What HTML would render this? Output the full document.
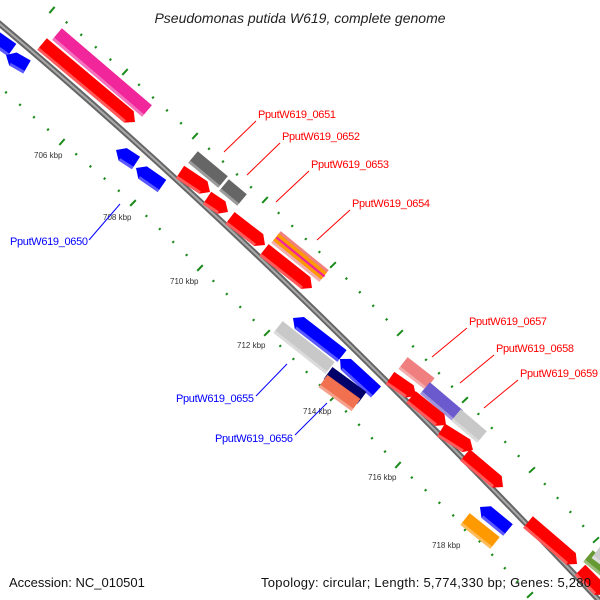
<!DOCTYPE html>
<html><head><meta charset="utf-8"><style>
html,body{margin:0;background:#fff;width:600px;height:600px;overflow:hidden}
svg{display:block;overflow:hidden}
text{font-family:"Liberation Sans","DejaVu Sans",sans-serif}
</style></head><body>
<svg id="s" width="600" height="600" viewBox="0 0 600 600" xmlns="http://www.w3.org/2000/svg">
<defs><clipPath id="c"><rect x="0" y="0" width="600" height="600"/></clipPath></defs>
<g clip-path="url(#c)">
<path d="M-5,20 Q270,250 610,612" stroke="#666" stroke-width="6" fill="none"/>
<path d="M-5,20 Q270,250 610,612" stroke="#aaa" stroke-width="2" fill="none"/>
<g id="g"></g>
</g>
<text x="300" y="23" font-size="14" font-style="italic" text-anchor="middle" fill="#222">Pseudomonas putida W619, complete genome</text>
<text x="9" y="587" font-size="13" fill="#111">Accession: NC_010501</text>
<text x="261" y="587" font-size="13" fill="#111" textLength="330" lengthAdjust="spacing">Topology: circular; Length: 5,774,330 bp; Genes: 5,280</text>
<g font-size="8" fill="#333">
<text x="34" y="158">706 kbp</text><text x="103" y="220">708 kbp</text><text x="170" y="284">710 kbp</text>
<text x="237" y="348">712 kbp</text><text x="303" y="414">714 kbp</text><text x="368" y="480">716 kbp</text><text x="432" y="548">718 kbp</text>
</g>
<g font-size="11" fill="#f00">
<text x="258" y="118" textLength="78">PputW619_0651</text><text x="282" y="140" textLength="78">PputW619_0652</text>
<text x="311" y="168" textLength="78">PputW619_0653</text><text x="352" y="207" textLength="78">PputW619_0654</text>
<text x="469" y="325" textLength="78">PputW619_0657</text><text x="496" y="352" textLength="78">PputW619_0658</text>
<text x="520" y="377" textLength="78">PputW619_0659</text>
</g>
<g stroke="#f00" stroke-width="1">
<line x1="256" y1="121" x2="224" y2="152"/><line x1="280" y1="143" x2="247" y2="175"/>
<line x1="309" y1="171" x2="276" y2="202"/><line x1="350" y1="210" x2="317" y2="240"/>
<line x1="467" y1="328" x2="432" y2="357"/><line x1="494" y1="355" x2="460" y2="383"/>
<line x1="518" y1="380" x2="484" y2="408"/>
</g>
<g font-size="11" fill="#00f">
<text x="10" y="245" textLength="78">PputW619_0650</text><text x="176" y="402" textLength="78">PputW619_0655</text><text x="215" y="442" textLength="78">PputW619_0656</text>
</g>
<g stroke="#00f" stroke-width="1">
<line x1="89" y1="240" x2="120" y2="204"/><line x1="256" y1="396" x2="287" y2="364"/><line x1="295" y1="435" x2="327" y2="403"/>
</g>
</svg>
<script>
var g=document.getElementById('g'),NS='http://www.w3.org/2000/svg';
function el(t,a){var e=document.createElementNS(NS,t);for(var k in a)e.setAttribute(k,a[k]);g.appendChild(e);return e;}
function row(L){for(var i=0;i<L.length-1;i++){var a=L[i],b=L[i+1];for(var j=0;j<5;j++){var t=j/5,x=a[0]+(b[0]-a[0])*t,y=a[1]+(b[1]-a[1])*t;var dx=b[0]-a[0],dy=b[1]-a[1],d=Math.hypot(dx,dy);var nx=-dy/d,ny=dx/d;var h=j==0?4:1.2;el('line',{x1:x-nx*h,y1:y-ny*h,x2:x+nx*h,y2:y+ny*h,stroke:'#1a8a1a','stroke-width':2});}}}
row([[52,10],[125,72],[195,136],[265,200],[333,265],[400,333],[465,400],[532,470],[596,540],[660,610]]);
row([[-8,80],[62,142],[133,203],[200,268],[267,333],[333,398],[398,465],[467,528],[530,595],[590,660]]);
function gene(x1,y1,x2,y2,c,ar,W){var w=W||7.5,dx=x2-x1,dy=y2-y1,d=Math.hypot(dx,dy),ux=dx/d,uy=dy/d,nx=-uy,ny=ux,ah=8;
var p=[];
if(ar==-1){p.push([x1,y1]);p.push([x1+ux*ah+nx*w,y1+uy*ah+ny*w]);}else{p.push([x1+nx*w,y1+ny*w]);}
if(ar==1){p.push([x2-ux*ah+nx*w,y2-uy*ah+ny*w]);p.push([x2,y2]);p.push([x2-ux*ah-nx*w,y2-uy*ah-ny*w]);}else{p.push([x2+nx*w,y2+ny*w]);p.push([x2-nx*w,y2-ny*w]);}
if(ar==-1){p.push([x1+ux*ah-nx*w,y1+uy*ah-ny*w]);}else{p.push([x1-nx*w,y1-ny*w]);}
el('polygon',{points:p.map(function(q){return q.join(',')}).join(' '),fill:c});
if(!W)el('line',{x1:x1+nx*(w-1.5)+(ar==-1?ux*ah:0),y1:y1+ny*(w-1.5)+(ar==-1?uy*ah:0),x2:x2+nx*(w-1.5)-(ar==1?ux*ah:0),y2:y2+ny*(w-1.5)-(ar==1?uy*ah:0),stroke:'rgba(255,255,255,0.35)','stroke-width':3});}
var G=[
[42,44,135,122,'#f00',1],[57,34,147,111,'#f0269a',0],
[-5,38,12,50,'#00f',0],[6,55,27,67,'#00f',-1],
[116,150,136,163,'#00f',-1],[136,168,162,186,'#00f',-1],
[193,157,223,182,'#666',0],[224,185,242,200,'#666',0],
[180,172,210,192,'#f00',1],[207,198,228,212,'#f00',1],
[230,218,265,245,'#f00',1],[264,250,312,288,'#f00',1],
[293,318,342,356,'#00f',-1],[278,327,330,368,'#c8c8c8',0],
[340,359,376,392,'#00f',-1],[328,373,362,398,'#00006a',0],[323,381,356,405,'#f07050',0],
[403,363,430,384,'#f08080',0],[390,378,416,396,'#f00',1],
[425,388,458,416,'#6a5acd',0],[456,415,482,437,'#c8c8c8',0],
[411,397,446,425,'#f00',1],[441,430,473,450,'#f00',1],[465,455,503,487,'#f00',1],
[480,507,508,530,'#00f',-1],[465,519,495,543,'#f90',0],
[528,522,577,564,'#f00',1],[580,570,605,595,'#f00',1],[588,556,610,574,'#693',0],[596,552,615,566,'#ccc',0]
];
G.forEach(function(a){gene.apply(null,a)});
// striped 0654
gene(276,237,324,276,'#f08080',0);
gene(276,237,324,276,'#f90',0,4.5);
gene(276.5,237.5,324.5,276.5,'#f0269a',0,1.2);
</script>
</body></html>
